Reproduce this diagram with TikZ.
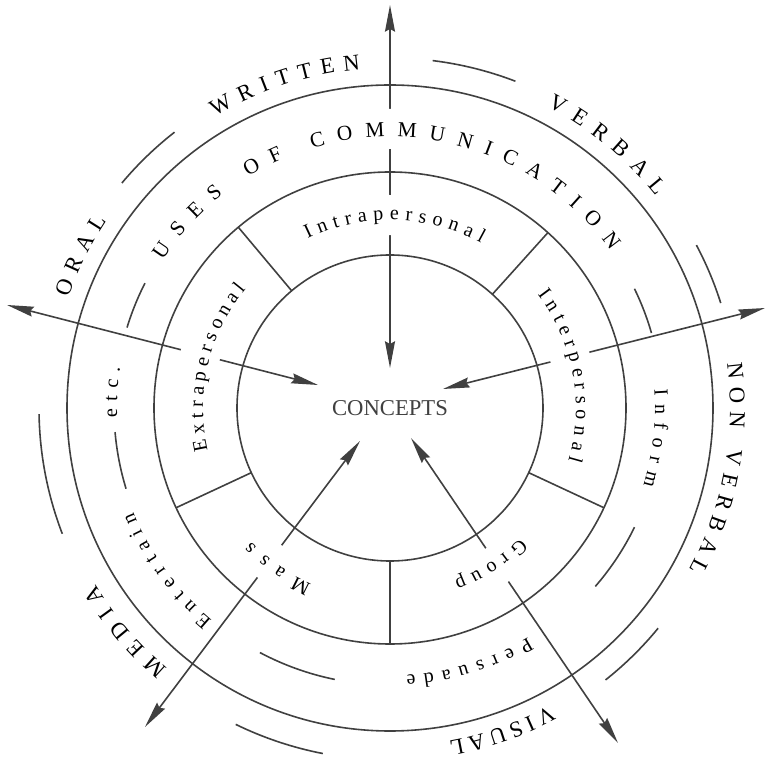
\documentclass[tikz,border=0pt]{standalone}
\usepackage{fontspec}
\setmainfont{Liberation Serif}
\usetikzlibrary{arrows.meta,decorations.text}

\definecolor{ink}{gray}{0.25}
\newcommand{\capsfont}{\fontsize{17pt}{17pt}\selectfont}
\newcommand{\usesfont}{\fontsize{16pt}{16pt}\selectfont}
\newcommand{\ringfont}{\fontsize{15pt}{15pt}\selectfont}

\begin{document}
\begin{tikzpicture}[x=0.75pt, y=0.75pt, color=ink, line width=1.2pt,
  >={Stealth[length=20pt,width=7.5pt,inset=2pt]},
  knockout/.style={draw=white, line width=30pt},
  ringlabel/.style={decorate, decoration={text along path, text align={fit to path}, text={#1}}}]

% Parameters
\def\rin{153}
\def\rmid{236}
\def\rout{323}

\useasboundingbox (-390,-354) rectangle (376,408);

% ---------- Rings ----------
\draw (0,0) circle[radius=\rin];
\draw (0,0) circle[radius=\rmid];
\draw (0,0) circle[radius=\rout];

% ---------- Sector dividers ----------
\draw (130:\rin) -- (130:\rmid);
\draw (48:\rin) -- (48:\rmid);
\draw (-25:\rin) -- (-25:\rmid);
\draw (-90:\rin) -- (-90:\rmid);
\draw (205:\rin) -- (205:\rmid);

% ---------- Loose arcs ----------
\draw (128:350) arc[start angle=128, end angle=140, radius=350];
\draw (153:275) arc[start angle=153, end angle=163, radius=275];
\draw (69:350) arc[start angle=69, end angle=83, radius=350];
\draw (17.6:347) arc[start angle=17.6, end angle=28, radius=347];
\draw (16:272) arc[start angle=16, end angle=26, radius=272];
\draw (181:351) arc[start angle=181, end angle=201, radius=351];
\draw (185:276) arc[start angle=185, end angle=197, radius=276];
\draw (242:277) arc[start angle=242, end angle=258.5, radius=277];
\draw (244:352) arc[start angle=244, end angle=259, radius=352];
\draw (-41:272) arc[start angle=-41, end angle=-26, radius=272];
\draw (-51.6:347) arc[start angle=-51.6, end angle=-39.4, radius=347];

% ---------- Centre and arrows ----------
\node (concepts) at (0,0) {\fontsize{17pt}{17pt}\selectfont CONCEPTS};

\coordinate (upTip) at (0,403);
\coordinate (upEnd) at (0,40);
\coordinate (leftTip) at (-383,103);
\coordinate (leftEnd) at (-72,23);
\coordinate (rightTip) at (375,100);
\coordinate (rightEnd) at (53,19);
\coordinate (massTip) at (-245,-319);
\coordinate (massEnd) at (-30,-33);
\coordinate (groupTip) at (228,-335);
\coordinate (groupEnd) at (21,-30);

\draw[<->] (upTip) -- (upEnd);
\draw[<->] (leftTip) -- (leftEnd);
\draw[<->] (rightTip) -- (rightEnd);
\draw[<->] (massTip) -- (massEnd);
\draw[<->] (groupTip) -- (groupEnd);

% ---------- Gaps under the labels ----------
\draw[knockout] (147:279) arc[start angle=147, end angle=35, radius=279];
\draw[knockout] (116:193) arc[start angle=116, end angle=61, radius=193];
\draw[knockout] (193:197) arc[start angle=193, end angle=140.5, radius=197];
\draw[knockout] (37.5:187) arc[start angle=37.5, end angle=-16.5, radius=187];
\draw[knockout] (246:195) arc[start angle=246, end angle=224, radius=195];
\draw[knockout] (-45:190) arc[start angle=-45, end angle=-69.5, radius=190];

% ---------- Inner ring ----------
\path[ringlabel={|\ringfont|Intrapersonal}] (116:188) arc[start angle=116, end angle=61, radius=188];
\path[ringlabel={|\ringfont|Interpersonal}] (37.5:186) arc[start angle=37.5, end angle=-16.5, radius=186];
\path[ringlabel={|\ringfont|Extrapersonal}] (193:187) arc[start angle=193, end angle=140.5, radius=187];
\path[ringlabel={|\ringfont|Mass}] (246:193) arc[start angle=246, end angle=224, radius=193];
\path[ringlabel={|\ringfont|Group}] (-45:184) arc[start angle=-45, end angle=-69.5, radius=184];

% ---------- Outer ring ----------
\path[ringlabel={|\usesfont|USES OF COMMUNICATION}] (147:271) arc[start angle=147, end angle=35.5, radius=271];
\path[ringlabel={|\ringfont|Inform}] (4:265) arc[start angle=4, end angle=-17, radius=265];
\path[ringlabel={|\ringfont|Persuade}] (-59:268) arc[start angle=-59, end angle=-86.5, radius=268];
\path[ringlabel={|\ringfont|Entertain}] (230:277) arc[start angle=230, end angle=202, radius=277];
\path[ringlabel={|\ringfont|etc.}] (182:273) arc[start angle=182, end angle=171.5, radius=273];

% ---------- Outside ----------
\path[ringlabel={|\capsfont|ORAL}] (161:340) arc[start angle=161, end angle=146.5, radius=340];
\path[ringlabel={|\capsfont|WRITTEN}] (121:340) arc[start angle=121, end angle=95, radius=340];
\path[ringlabel={|\capsfont|VERBAL}] (62.5:340) arc[start angle=62.5, end angle=38.5, radius=340];
\path[ringlabel={|\capsfont|NON VERBAL}] (7.5:340) arc[start angle=7.5, end angle=-28.5, radius=340];
\path[ringlabel={|\capsfont|VISUAL}] (-61.8:338) arc[start angle=-61.8, end angle=-80, radius=338];
\path[ringlabel={|\capsfont|MEDIA}] (229.5:343) arc[start angle=229.5, end angle=211, radius=343];

\end{tikzpicture}
\end{document}
